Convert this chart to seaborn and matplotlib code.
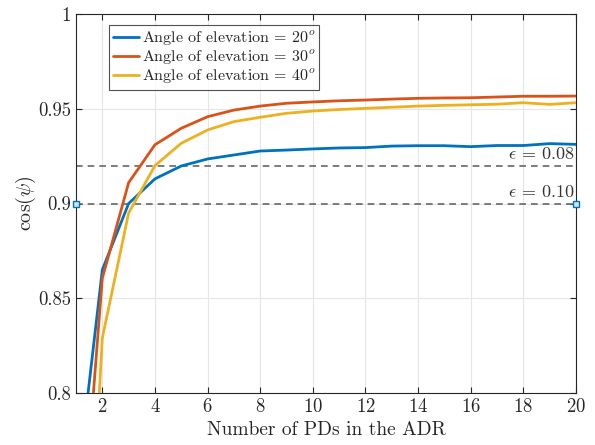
import numpy as np
import pandas as pd
import matplotlib
matplotlib.use("Agg")
import matplotlib.pyplot as plt
import seaborn as sns

# number of PDs in the ADR
num_pds = list(range(1, 21))

# cos(psi) per elevation angle
cos_20 = [0.745, 0.865, 0.900, 0.913, 0.9198, 0.9235, 0.9256, 0.9277, 0.9282, 0.9288,
          0.9293, 0.9295, 0.9303, 0.9305, 0.9305, 0.9300, 0.9306, 0.9306, 0.9316, 0.9312]
cos_30 = [0.682, 0.8605, 0.911, 0.931, 0.9397, 0.9458, 0.9493, 0.9514, 0.9529, 0.9536,
          0.9542, 0.9546, 0.9551, 0.9555, 0.9557, 0.9558, 0.9562, 0.9566, 0.9566, 0.9567]
cos_40 = [0.575, 0.829, 0.895, 0.920, 0.9318, 0.9388, 0.9432, 0.9455, 0.9476, 0.9488,
          0.9496, 0.9502, 0.9508, 0.9514, 0.9518, 0.9521, 0.9524, 0.9532, 0.9523, 0.9532]

labels = [r"Angle of elevation = 20$^o$",
          r"Angle of elevation = 30$^o$",
          r"Angle of elevation = 40$^o$"]
colors = ["#0072BD", "#D95319", "#EDB120"]

eps_levels = [0.92, 0.90]
eps_labels = [r"$\epsilon$ = 0.08", r"$\epsilon$ = 0.10"]

df = pd.concat([
    pd.DataFrame({"N": num_pds, "cos": vals, "angle": lab})
    for vals, lab in zip([cos_20, cos_30, cos_40], labels)
])

sns.set_style("whitegrid")
plt.rcParams["font.family"] = "serif"
plt.rcParams["font.serif"] = ["cmr10", "DejaVu Serif"]
plt.rcParams["mathtext.fontset"] = "cm"
plt.rcParams["axes.formatter.use_mathtext"] = True

fig = plt.figure(figsize=(5.95, 4.45), dpi=100)
ax = fig.add_axes([76 / 595, 1 - 393 / 445, 500 / 595, 379 / 445])

sns.lineplot(data=df, x="N", y="cos", hue="angle", palette=colors,
             linewidth=2, ax=ax, zorder=3)

for lvl in eps_levels:
    ax.axhline(lvl, color="#666666", linestyle=(0, (4, 3)), linewidth=1.2, zorder=2)
for lvl, txt in zip(eps_levels, eps_labels):
    ax.text(19.95, lvl + 0.002, txt, ha="right", va="bottom", fontsize=13,
            color="#333333")

# data-tip squares on the 0.9 line
ax.plot([1, 20], [0.9, 0.9], linestyle="none", marker="s", markersize=4,
        markerfacecolor="#cfe6f7", markeredgecolor="#0072BD", clip_on=False, zorder=4)

ax.set_xlim(1, 20)
ax.set_ylim(0.8, 1)
ax.set_xticks(range(2, 21, 2))
ax.set_yticks([0.8, 0.85, 0.9, 0.95, 1])
ax.set_yticklabels(["0.8", "0.85", "0.9", "0.95", "1"])
ax.set_xlabel("Number of PDs in the ADR", fontsize=14, color="#262626", labelpad=4)
ax.set_ylabel(r"$\cos(\psi)$", fontsize=14.5, color="#262626", labelpad=0)
ax.tick_params(direction="in", length=4, labelsize=13.5, colors="#262626",
               top=True, right=True, bottom=True, left=True)
ax.grid(True, color="#e6e6e6", linewidth=0.8)
for sp in ax.spines.values():
    sp.set_color("#262626")
    sp.set_linewidth(0.8)

leg = ax.legend(loc="upper left", bbox_to_anchor=(0.066, 0.97), fontsize=11.5,
                frameon=True, fancybox=False, edgecolor="#262626",
                handlelength=1.6, handletextpad=0.2, borderpad=0.25,
                labelspacing=0.05, borderaxespad=0)
leg.get_frame().set_linewidth(0.8)
leg.set_title(None)

fig.savefig("out.png", dpi=100)
